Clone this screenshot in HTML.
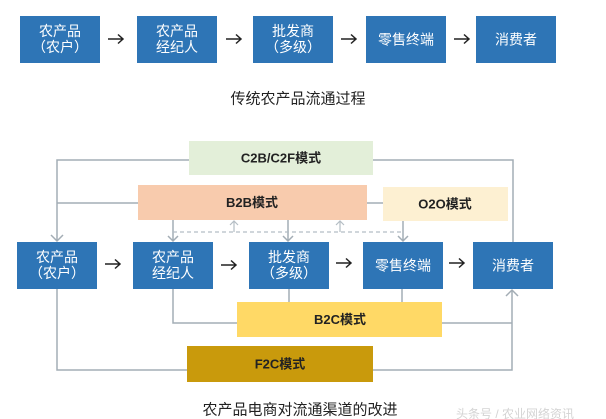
<!DOCTYPE html>
<html><head><meta charset="utf-8"><style>
html,body{margin:0;padding:0;background:#fff;}
svg{display:block;}
text{font-family:"Liberation Sans","Noto Sans CJK SC","WenQuanYi Zen Hei",sans-serif;}
.bx{fill:#2E75B6;}
.bt{fill:#fff;font-size:14px;text-anchor:middle;dominant-baseline:central;}
.ln{stroke:#A3ADB5;stroke-width:1.5;fill:none;}
.ar{stroke:#222;stroke-width:1.5;fill:none;}
.ml{fill:#222;font-size:13px;font-weight:bold;text-anchor:middle;dominant-baseline:central;}
</style></head><body>
<svg width="606" height="419" viewBox="0 0 606 419" xmlns="http://www.w3.org/2000/svg">
<!-- Top row -->
<rect class="bx" x="20" y="16" width="80" height="47"/>
<text class="bt" x="60" y="31">农产品</text><text class="bt" x="60" y="47">（农户）</text>
<rect class="bx" x="137" y="16" width="80" height="47"/>
<text class="bt" x="177" y="31">农产品</text><text class="bt" x="177" y="47">经纪人</text>
<rect class="bx" x="253" y="16" width="80" height="47"/>
<text class="bt" x="293" y="31">批发商</text><text class="bt" x="293" y="47">（多级）</text>
<rect class="bx" x="366" y="16" width="80" height="47"/>
<text class="bt" x="406" y="39.5">零售终端</text>
<rect class="bx" x="476" y="16" width="80" height="47"/>
<text class="bt" x="516" y="39.5">消费者</text>
<g class="ar">
<path d="M108 39H123M118 34.5L123 39L118 43.5"/>
<path d="M226 39H241M236 34.5L241 39L236 43.5"/>
<path d="M341 39H356M351 34.5L356 39L351 43.5"/>
<path d="M454 39H469M464 34.5L469 39L464 43.5"/>
</g>
<text x="298" y="99" font-size="15" fill="#222" text-anchor="middle" dominant-baseline="central">传统农产品流通过程</text>

<!-- connector lines -->
<g class="ln">
<path d="M189 160H57V241"/>
<path d="M51 235L57 241L63 235"/>
<path d="M138 203H57"/>
<path d="M373 160H513V242"/>
<path d="M367 203H383"/>
<path d="M57 289V370H187"/>
<path d="M373 370H512V290"/>
<path d="M506 296L512 290L518 296"/>
<path d="M442 323H512"/>
<path d="M173 289V323H237"/>
<path d="M289 289V302"/>
<path d="M402 289V302"/>
<!-- down arrows -->
<path d="M173 220V241M168 236L173 241L178 236"/>
<path d="M288 220V241M283 236L288 241L293 236"/>
<path d="M403 221V241M398 236L403 241L408 236"/>
</g>
<g stroke="#B5BEC5" stroke-width="1.2" fill="none">
<path d="M173 232H403" stroke-dasharray="4 3"/>
<path d="M234 232V221M230 225L234 221L238 225"/>
<path d="M340 232V221M336 225L340 221L344 225"/>
</g>

<!-- mode boxes -->
<rect x="189" y="141" width="184" height="34" fill="#E3EFD9"/>
<text class="ml" x="281" y="158">C2B/C2F模式</text>
<rect x="138" y="185" width="229" height="35" fill="#F8CBAD"/>
<text class="ml" x="252" y="202.5">B2B模式</text>
<rect x="383" y="187" width="125" height="34" fill="#FDF0D2"/>
<text class="ml" x="445" y="204">O2O模式</text>
<rect x="237" y="302" width="205" height="35" fill="#FFD966"/>
<text class="ml" x="340" y="319.5">B2C模式</text>
<rect x="187" y="346" width="186" height="36" fill="#C99A0C"/>
<text class="ml" x="280" y="364">F2C模式</text>

<!-- Bottom row -->
<rect class="bx" x="17" y="242" width="80" height="47"/>
<text class="bt" x="57" y="257">农产品</text><text class="bt" x="57" y="273">（农户）</text>
<rect class="bx" x="133" y="242" width="80" height="47"/>
<text class="bt" x="173" y="257">农产品</text><text class="bt" x="173" y="273">经纪人</text>
<rect class="bx" x="249" y="242" width="80" height="47"/>
<text class="bt" x="289" y="257">批发商</text><text class="bt" x="289" y="273">（多级）</text>
<rect class="bx" x="363" y="242" width="80" height="47"/>
<text class="bt" x="403" y="265.5">零售终端</text>
<rect class="bx" x="473" y="242" width="80" height="47"/>
<text class="bt" x="513" y="265.5">消费者</text>
<g class="ar">
<path d="M105 264H120M115 259.5L120 264L115 268.5"/>
<path d="M221 265H236M231 260.5L236 265L231 269.5"/>
<path d="M336 263H351M346 258.5L351 263L346 267.5"/>
<path d="M449 263H464M459 258.5L464 263L459 267.5"/>
</g>

<text x="300" y="410" font-size="15" fill="#222" text-anchor="middle" dominant-baseline="central">农产品电商对流通渠道的改进</text>
<text x="456" y="414" font-size="12" fill="#D4D4D4" dominant-baseline="central">头条号 / 农业网络资讯</text>
</svg>
</body></html>
